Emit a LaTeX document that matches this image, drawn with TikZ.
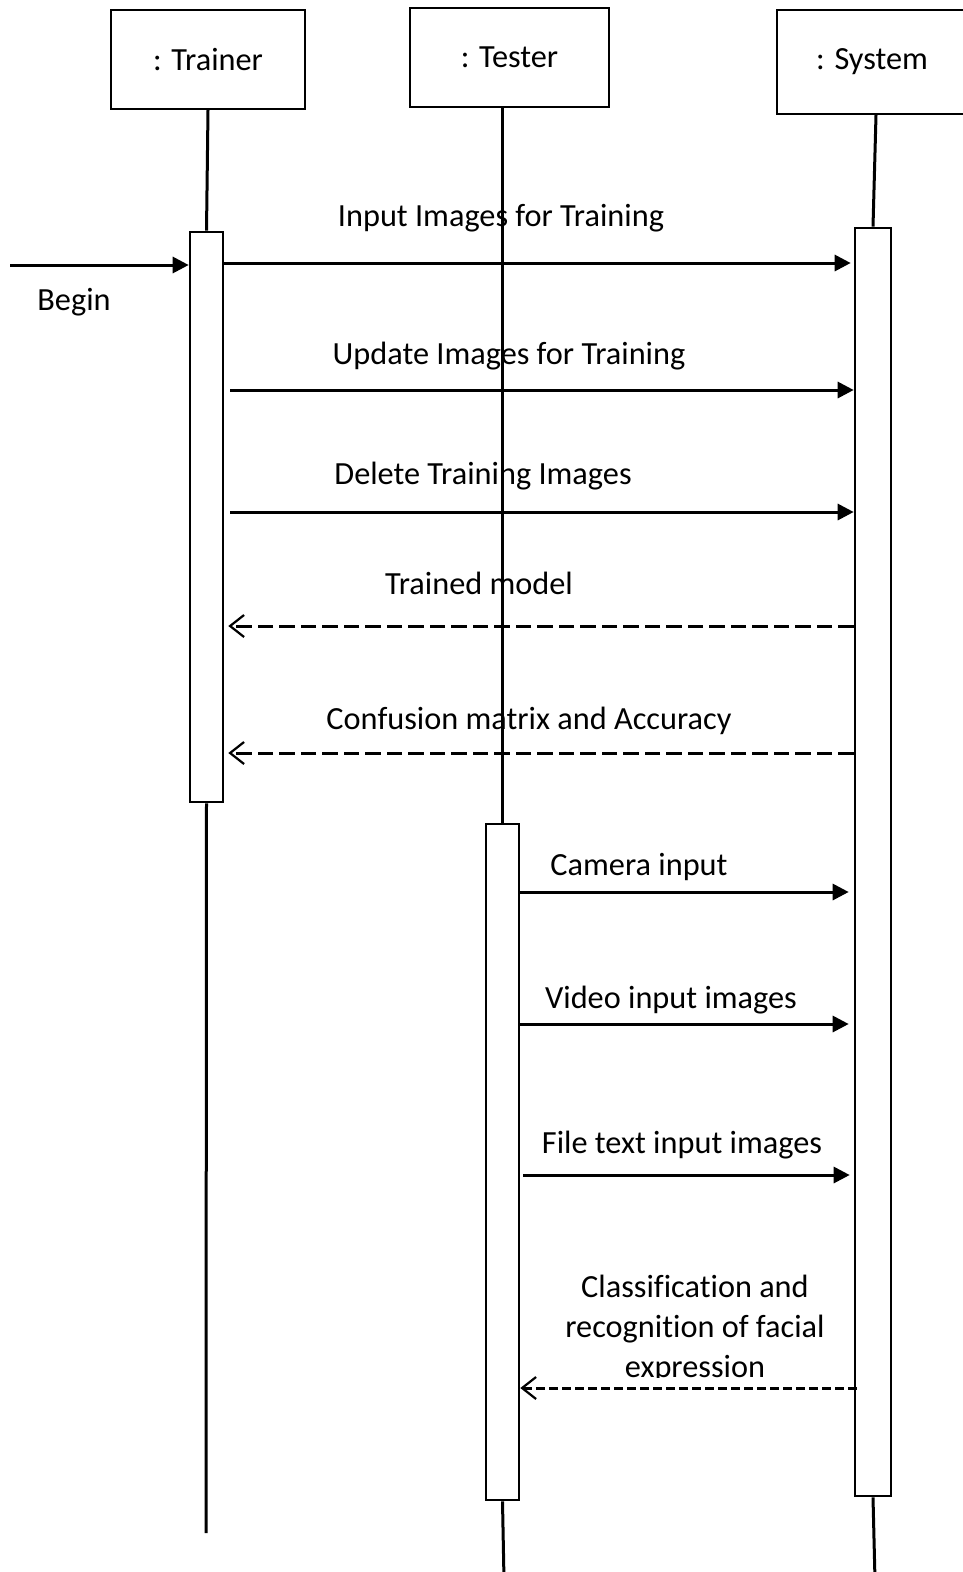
\documentclass[tikz,border=0pt]{standalone}
\usepackage{fontspec}
\setmainfont{Carlito}[Ligatures={NoCommon,NoContextual}]
\usetikzlibrary{arrows.meta}
\begin{document}
\begin{tikzpicture}[x=1pt,y=-1pt,
  line width=3pt,
  every node/.style={font=\fontsize{32.3}{40}\selectfont, inner sep=0pt},
  objbox/.style={draw, line width=2.2pt, minimum width=#1, anchor=center},
  actbox/.style={draw, line width=2.6pt, fill=white, minimum width=33pt},
  lifeline/.style={line width=3pt},
  call/.style={-{Triangle[length=16pt,width=16pt]}},
  reply/.style={dash pattern=on 15.5pt off 6pt, -{Straight Barb[length=14pt,width=22pt,line width=2.2pt]}},
  lbl/.style={anchor=center}]
\useasboundingbox (0,0) rectangle (962,1572);

% participants
\node[objbox=194pt, minimum height=99pt] (trainer) at (208,59.5) {: Trainer};
\node[objbox=199pt, minimum height=99pt] (tester) at (509.5,57.5) {: Tester};
\node[objbox=198pt, minimum height=104pt] (system) at (876,62) {\hspace*{-8pt}: System};

% loose ends of the lifelines
\coordinate (tbottom) at (206,1533);
\coordinate (ebottom) at (504,1580);
\coordinate (sbottom) at (875,1580);

% activation bars
\node[actbox, minimum height=570pt] (tact) at (206.5,517) {};
\node[actbox, minimum height=676pt] (eact) at (502.5,1162) {};
\node[actbox, minimum width=36pt, minimum height=1268pt] (sact) at (873,862) {};

% lifelines
\draw[lifeline] (trainer.south) -- (tact.north);
\draw[lifeline] (tact.south) -- (tbottom);
\draw[lifeline] (eact.north |- tester.south) -- (eact.north);
\draw[lifeline] (eact.south) -- (ebottom);
\draw[lifeline] (system.south) -- (sact.north);
\draw[lifeline] (sact.south) -- (sbottom);

% bars drawn again over the lifelines
\node[actbox, minimum height=570pt] at (206.5,517) {};
\node[actbox, minimum height=676pt] at (502.5,1162) {};
\node[actbox, minimum width=36pt, minimum height=1268pt] at (873,862) {};

% message rows
\coordinate (start) at (10,265);
\coordinate (m1) at (0,263);
\coordinate (m2) at (0,390);
\coordinate (m3) at (0,512);
\coordinate (r1) at (0,626);
\coordinate (r2) at (0,753);
\coordinate (m4) at (0,892);
\coordinate (m5) at (0,1024);
\coordinate (m6) at (0,1175);
\coordinate (r3) at (0,1388);

% trainer messages
\draw[call] (start) -- (tact.west |- start);
\node[lbl] (lbegin) at (74,302) {Begin};

\draw[call, shorten >=3pt] (tact.east |- m1) -- (sact.west |- m1);
\node[lbl] (l1) at (501,218) {Input Images for Training};

\draw[call, shorten <=6pt] (tact.east |- m2) -- (sact.west |- m2);
\node[lbl] (l2) at (509,356) {Update Images for Training};

\draw[call, shorten <=6pt] (tact.east |- m3) -- (sact.west |- m3);
\node[lbl] (l3) at (483,476) {Delete Training Images};

\draw[reply, shorten >=4pt] (sact.west |- r1) -- (tact.east |- r1);
\node[lbl] (l4) at (479,583) {Trained model};

\draw[reply, shorten >=4pt] (sact.west |- r2) -- (tact.east |- r2);
\node[lbl] (l5) at (529,721) {Confusion matrix and Accuracy};

% tester messages
\draw[call, shorten >=5pt] (eact.east |- m4) -- (sact.west |- m4);
\node[lbl] (l6) at (639,867) {Camera input};

\draw[call, shorten >=5pt] (eact.east |- m5) -- (sact.west |- m5);
\node[lbl] (l7) at (671,1000) {Video input images};

\draw[call, shorten <=3pt, shorten >=4pt] (eact.east |- m6) -- (sact.west |- m6);
\node[lbl] (l8) at (682,1145) {File text input images};

\draw[reply, dash pattern=on 8.5pt off 4.5pt, shorten <=-3pt] (sact.west |- r3) -- (eact.east |- r3);
\begin{scope}
\clip (540,1250) rectangle (850,1377);
\node[lbl, align=center] (l9) at (695,1329) {Classification and\\recognition of facial\\expression};
\end{scope}
\end{tikzpicture}
\end{document}
